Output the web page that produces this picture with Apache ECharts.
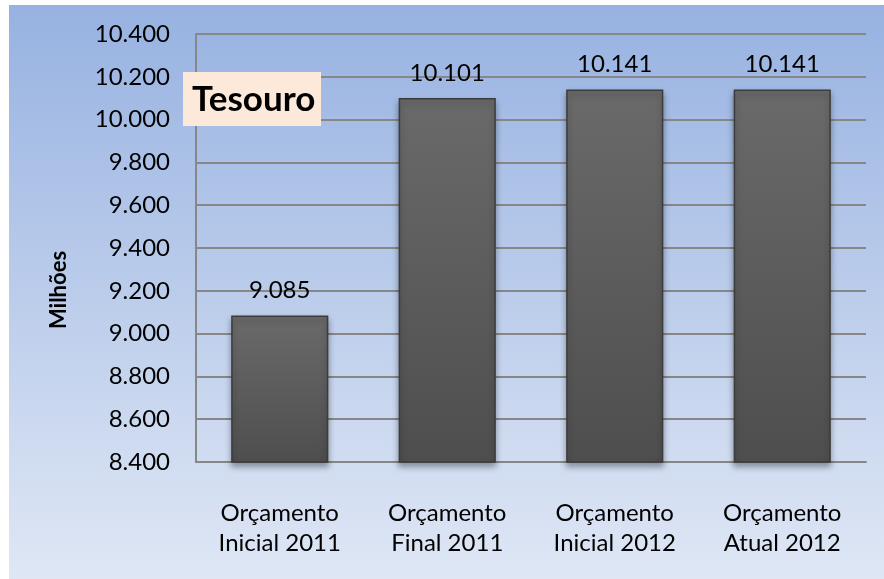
<!DOCTYPE html>
<html>
<head>
<meta charset="utf-8">
<script src="https://cdn.jsdelivr.net/npm/echarts@6/dist/echarts.min.js"></script>
<style>
  html, body { margin: 0; padding: 0; background: #fff; }
  #chart { width: 884px; height: 579px; }
</style>
</head>
<body>
<div id="chart"></div>
<script>
// data
const categories = ['Orçamento\nInicial 2011', 'Orçamento\nFinal 2011', 'Orçamento\nInicial 2012', 'Orçamento\nAtual 2012']
const values = [9085, 10101, 10141, 10141]
const yMin = 8400
const yMax = 10400
const yStep = 200

const font = 'Lato, "Noto Sans", sans-serif'
const fmt = (v) => {
  const s = String(Math.round(v))
  return s.length > 3 ? s.slice(0, s.length - 3) + '.' + s.slice(-3) : s
}

const chart = echarts.init(document.getElementById('chart'))

chart.setOption({
  animation: false,
  graphic: [
    {
      type: 'rect',
      left: 9, top: 5,
      shape: { width: 875, height: 574 },
      z: -10,
      style: {
        fill: new echarts.graphic.LinearGradient(0, 0, 0, 1, [
          { offset: 0, color: '#97b2e1' },
          { offset: 1, color: '#dfe7f5' },
        ]),
      },
    },
    {
      type: 'rect',
      x: 183, y: 72,
      z: 100,
      shape: { width: 138, height: 54 },
      style: { fill: '#fde9d9' },
    },
    {
      type: 'text',
      x: 192, y: 100,
      z: 101,
      style: { text: 'Tesouro', font: 'bold 35px ' + font, fill: '#000', textVerticalAlign: 'middle' },
    },
    {
      type: 'text',
      rotation: Math.PI / 2,
      x: 59, y: 290,
      style: { text: 'Milhões', font: 'bold 22px ' + font, fill: '#000', textAlign: 'center', textVerticalAlign: 'middle' },
    },
  ],
  grid: { left: 196, right: 18, top: 34, bottom: 117 },
  xAxis: {
    type: 'category',
    data: categories,
    axisTick: { show: false },
    axisLine: { lineStyle: { color: '#878787', width: 2 } },
    axisLabel: { color: '#000', fontFamily: font, fontSize: 24, lineHeight: 30, margin: 36 },
  },
  yAxis: {
    type: 'value',
    min: yMin,
    max: yMax,
    interval: yStep,
    axisLine: { show: true, lineStyle: { color: '#878787', width: 2 } },
    axisTick: { show: false },
    splitLine: { lineStyle: { color: '#878787', width: 2 } },
    axisLabel: { color: '#000', fontFamily: font, fontSize: 24, margin: 26, formatter: fmt },
  },
  series: [
    {
      type: 'bar',
      data: values,
      barWidth: '58%',
      itemStyle: {
        color: new echarts.graphic.LinearGradient(0, 0, 0, 1, [
          { offset: 0, color: '#6a6a6a' },
          { offset: 1, color: '#4e4e4e' },
        ]),
        borderColor: '#3c3c3c',
        borderWidth: 1.5,
        shadowColor: 'rgba(0,0,0,0.35)',
        shadowBlur: 6,
        shadowOffsetY: 4,
      },
      label: {
        show: true,
        position: 'top',
        distance: 13,
        color: '#000',
        fontFamily: font,
        fontSize: 24,
        formatter: (p) => fmt(p.value),
      },
    },
  ],
})
</script>
</body>
</html>
